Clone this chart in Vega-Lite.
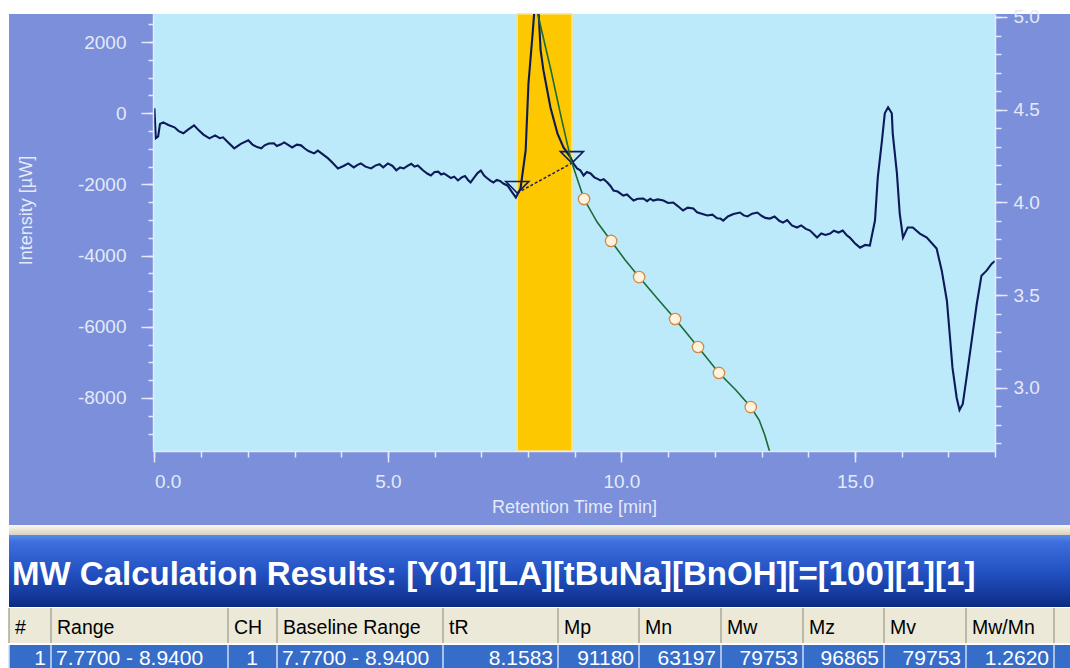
{
  "$schema": "https://vega.github.io/schema/vega-lite/v6.json",
  "background": "#ffffff",
  "padding": {"left": 8, "top": 7, "right": 0, "bottom": 0},
  "spacing": 0,
  "columns": 1,
  "config": {
    "view": {"stroke": null},
    "axis": {"labelFont": "Liberation Sans", "titleFont": "Liberation Sans", "grid": false,
      "tickColor": "#e4eaf9", "tickWidth": 1.5, "domainColor": "#e4eaf9", "domainWidth": 1.5,
      "labelColor": "#e4eaf9", "titleColor": "#e4eaf9", "labelFontSize": 19, "titleFontSize": 18, "titleFontWeight": "normal",
      "labelOverlap": false}
  },
  "datasets": {
    "band": [{"start": 7.77, "end": 8.94}],
    "base": [{"t": 7.77, "i": -2240}, {"t": 8.94, "i": -1400}],
    "chrom": [
      {"t": 0.00, "i": 141}, {"t": 0.03, "i": -700}, {"t": 0.08, "i": -650}, {"t": 0.12, "i": -300},
      {"t": 0.19, "i": -254}, {"t": 0.30, "i": -330}, {"t": 0.43, "i": -394}, {"t": 0.52, "i": -500},
      {"t": 0.62, "i": -563}, {"t": 0.72, "i": -460}, {"t": 0.85, "i": -338}, {"t": 0.95, "i": -480},
      {"t": 1.05, "i": -600}, {"t": 1.18, "i": -704}, {"t": 1.30, "i": -620}, {"t": 1.40, "i": -700},
      {"t": 1.47, "i": -676}, {"t": 1.58, "i": -820}, {"t": 1.71, "i": -986}, {"t": 1.85, "i": -860},
      {"t": 2.01, "i": -761}, {"t": 2.10, "i": -880}, {"t": 2.20, "i": -950}, {"t": 2.29, "i": -986},
      {"t": 2.36, "i": -900}, {"t": 2.45, "i": -850}, {"t": 2.56, "i": -845}, {"t": 2.62, "i": -920},
      {"t": 2.70, "i": -880}, {"t": 2.78, "i": -817}, {"t": 2.88, "i": -900}, {"t": 2.95, "i": -960},
      {"t": 3.05, "i": -880}, {"t": 3.14, "i": -901}, {"t": 3.22, "i": -990}, {"t": 3.30, "i": -1060},
      {"t": 3.42, "i": -1127}, {"t": 3.50, "i": -1050}, {"t": 3.60, "i": -1150}, {"t": 3.72, "i": -1268},
      {"t": 3.82, "i": -1400}, {"t": 3.93, "i": -1549}, {"t": 4.05, "i": -1480}, {"t": 4.15, "i": -1409},
      {"t": 4.27, "i": -1521}, {"t": 4.35, "i": -1450}, {"t": 4.42, "i": -1409}, {"t": 4.52, "i": -1500},
      {"t": 4.64, "i": -1549}, {"t": 4.73, "i": -1470}, {"t": 4.82, "i": -1430}, {"t": 4.90, "i": -1520},
      {"t": 5.00, "i": -1409}, {"t": 5.10, "i": -1480}, {"t": 5.18, "i": -1600}, {"t": 5.26, "i": -1520},
      {"t": 5.34, "i": -1549}, {"t": 5.42, "i": -1480}, {"t": 5.50, "i": -1420}, {"t": 5.57, "i": -1500},
      {"t": 5.64, "i": -1465}, {"t": 5.75, "i": -1600}, {"t": 5.85, "i": -1700}, {"t": 5.92, "i": -1747},
      {"t": 6.00, "i": -1650}, {"t": 6.08, "i": -1640}, {"t": 6.14, "i": -1720}, {"t": 6.20, "i": -1690},
      {"t": 6.28, "i": -1760}, {"t": 6.35, "i": -1820}, {"t": 6.42, "i": -1780}, {"t": 6.50, "i": -1887},
      {"t": 6.58, "i": -1800}, {"t": 6.65, "i": -1760}, {"t": 6.72, "i": -1880}, {"t": 6.77, "i": -1944},
      {"t": 6.85, "i": -1800}, {"t": 6.92, "i": -1680}, {"t": 6.99, "i": -1606}, {"t": 7.06, "i": -1750},
      {"t": 7.12, "i": -1820}, {"t": 7.20, "i": -1900}, {"t": 7.26, "i": -1944}, {"t": 7.33, "i": -1870},
      {"t": 7.40, "i": -1900}, {"t": 7.48, "i": -1980}, {"t": 7.56, "i": -2028}, {"t": 7.65, "i": -2200},
      {"t": 7.74, "i": -2366}, {"t": 7.84, "i": -2113}, {"t": 7.95, "i": -1042}, {"t": 8.01, "i": 845},
      {"t": 8.10, "i": 2254}, {"t": 8.16, "i": 3300}, {"t": 8.23, "i": 2761}, {"t": 8.27, "i": 1775},
      {"t": 8.33, "i": 1211}, {"t": 8.48, "i": 169}, {"t": 8.63, "i": -563}, {"t": 8.76, "i": -958},
      {"t": 8.91, "i": -1239}, {"t": 8.97, "i": -1409}, {"t": 9.05, "i": -1550}, {"t": 9.12, "i": -1600},
      {"t": 9.19, "i": -1747}, {"t": 9.26, "i": -1650}, {"t": 9.34, "i": -1690}, {"t": 9.42, "i": -1800},
      {"t": 9.50, "i": -1850}, {"t": 9.55, "i": -1887}, {"t": 9.62, "i": -1850}, {"t": 9.70, "i": -1944},
      {"t": 9.77, "i": -2050}, {"t": 9.83, "i": -2169}, {"t": 9.92, "i": -2200}, {"t": 10.04, "i": -2310},
      {"t": 10.12, "i": -2280}, {"t": 10.20, "i": -2380}, {"t": 10.26, "i": -2451}, {"t": 10.35, "i": -2400},
      {"t": 10.47, "i": -2394}, {"t": 10.55, "i": -2470}, {"t": 10.62, "i": -2400}, {"t": 10.68, "i": -2451},
      {"t": 10.78, "i": -2420}, {"t": 10.90, "i": -2451}, {"t": 11.00, "i": -2520}, {"t": 11.11, "i": -2507},
      {"t": 11.20, "i": -2600}, {"t": 11.32, "i": -2732}, {"t": 11.42, "i": -2650}, {"t": 11.54, "i": -2676},
      {"t": 11.62, "i": -2780}, {"t": 11.72, "i": -2820}, {"t": 11.84, "i": -2873}, {"t": 11.95, "i": -2850},
      {"t": 12.05, "i": -2950}, {"t": 12.12, "i": -2958}, {"t": 12.18, "i": -3014}, {"t": 12.28, "i": -2900},
      {"t": 12.40, "i": -2830}, {"t": 12.54, "i": -2789}, {"t": 12.62, "i": -2870}, {"t": 12.70, "i": -2900},
      {"t": 12.80, "i": -2820}, {"t": 12.91, "i": -2789}, {"t": 13.00, "i": -2880}, {"t": 13.08, "i": -2940},
      {"t": 13.18, "i": -2958}, {"t": 13.28, "i": -2900}, {"t": 13.38, "i": -3020}, {"t": 13.46, "i": -3071},
      {"t": 13.55, "i": -3000}, {"t": 13.65, "i": -3150}, {"t": 13.76, "i": -3211}, {"t": 13.85, "i": -3150},
      {"t": 13.95, "i": -3250}, {"t": 14.04, "i": -3296}, {"t": 14.12, "i": -3400}, {"t": 14.19, "i": -3493},
      {"t": 14.28, "i": -3380}, {"t": 14.37, "i": -3420}, {"t": 14.47, "i": -3380}, {"t": 14.55, "i": -3300},
      {"t": 14.65, "i": -3350}, {"t": 14.74, "i": -3296}, {"t": 14.82, "i": -3420}, {"t": 14.89, "i": -3493},
      {"t": 15.00, "i": -3650}, {"t": 15.11, "i": -3775}, {"t": 15.22, "i": -3700}, {"t": 15.32, "i": -3718},
      {"t": 15.43, "i": -3014}, {"t": 15.49, "i": -1803}, {"t": 15.58, "i": -761}, {"t": 15.64, "i": 0},
      {"t": 15.71, "i": 169}, {"t": 15.79, "i": 0}, {"t": 15.81, "i": -563}, {"t": 15.90, "i": -1690},
      {"t": 15.96, "i": -2817}, {"t": 16.03, "i": -3493}, {"t": 16.13, "i": -3211}, {"t": 16.24, "i": -3211},
      {"t": 16.39, "i": -3380}, {"t": 16.54, "i": -3493}, {"t": 16.75, "i": -3803}, {"t": 16.86, "i": -4423},
      {"t": 16.97, "i": -5268}, {"t": 17.03, "i": -6197}, {"t": 17.09, "i": -7155}, {"t": 17.18, "i": -8000},
      {"t": 17.24, "i": -8338}, {"t": 17.31, "i": -8169}, {"t": 17.39, "i": -7437}, {"t": 17.50, "i": -6395},
      {"t": 17.61, "i": -5352}, {"t": 17.71, "i": -4564}, {"t": 17.82, "i": -4423}, {"t": 17.93, "i": -4226},
      {"t": 18.00, "i": -4150}
    ],
    "calib": [
      {"t": 8.17, "v": 5.065}, {"t": 8.21, "v": 5.016}, {"t": 8.34, "v": 4.876}, {"t": 8.49, "v": 4.714},
      {"t": 8.71, "v": 4.46}, {"t": 8.92, "v": 4.229}, {"t": 9.07, "v": 4.115}, {"t": 9.20, "v": 4.018},
      {"t": 9.48, "v": 3.894}, {"t": 9.78, "v": 3.792}, {"t": 10.08, "v": 3.689}, {"t": 10.38, "v": 3.597},
      {"t": 10.76, "v": 3.484}, {"t": 11.15, "v": 3.371}, {"t": 11.64, "v": 3.22}, {"t": 12.09, "v": 3.08},
      {"t": 12.45, "v": 2.988}, {"t": 12.77, "v": 2.896}, {"t": 12.95, "v": 2.826}, {"t": 13.07, "v": 2.745},
      {"t": 13.17, "v": 2.659}, {"t": 13.20, "v": 2.61}
    ],
    "calpts": [
      {"t": 9.20, "v": 4.018}, {"t": 9.78, "v": 3.792}, {"t": 10.38, "v": 3.597}, {"t": 11.15, "v": 3.371},
      {"t": 11.64, "v": 3.22}, {"t": 12.09, "v": 3.08}, {"t": 12.77, "v": 2.896}
    ],
    "cells": [
      {"col": 0, "next": 1, "head": "#", "val": "1"},
      {"col": 1, "next": 2, "head": "Range", "val": "7.7700 - 8.9400"},
      {"col": 2, "next": 3, "head": "CH", "val": "1"},
      {"col": 3, "next": 4, "head": "Baseline Range", "val": "7.7700 - 8.9400"},
      {"col": 4, "next": 5, "head": "tR", "val": "8.1583"},
      {"col": 5, "next": 6, "head": "Mp", "val": "91180"},
      {"col": 6, "next": 7, "head": "Mn", "val": "63197"},
      {"col": 7, "next": 8, "head": "Mw", "val": "79753"},
      {"col": 8, "next": 9, "head": "Mz", "val": "96865"},
      {"col": 9, "next": 10, "head": "Mv", "val": "79753"},
      {"col": 10, "next": 11, "head": "Mw/Mn", "val": "1.2620"}
    ],
    "seps": [{"k": 0}, {"k": 1}, {"k": 2}, {"k": 3}, {"k": 4}, {"k": 5}, {"k": 6}, {"k": 7}, {"k": 8}, {"k": 9}, {"k": 10}, {"k": 11}],
    "whole": [{"from": 0, "to": 12}]
  },
  "concat": [
    {
      "width": 842,
      "height": 437,
      "layer": [
        {
          "layer": [
            {
              "data": {"values": [{}]},
              "mark": {"type": "rect", "color": "#7b8fda", "clip": false},
              "encoding": {
                "x": {"datum": -3.113, "type": "quantitative", "scale": {"domain": [-0.03, 18], "nice": false, "zero": false}, "axis": null},
                "x2": {"datum": 19.627},
                "y": {"datum": 2790, "type": "quantitative", "scale": {"domain": [-9490, 2790], "nice": false, "zero": false}, "axis": null},
                "y2": {"datum": -11569}
              }
            },
            {
              "data": {"values": [{}]},
              "mark": {"type": "rect", "color": "#bdeafb"},
              "encoding": {}
            },
            {
              "data": {"name": "band"},
              "mark": {"type": "rect", "color": "#fdc800", "stroke": "#ffe27a", "strokeWidth": 1.5},
              "encoding": {
                "x": {"field": "start", "type": "quantitative", "scale": {"domain": [-0.03, 18], "nice": false, "zero": false}, "axis": null},
                "x2": {"field": "end"}
              }
            },
            {
              "data": {"name": "chrom"},
              "mark": {"type": "line", "color": "#0c1a58", "strokeWidth": 2.1, "clip": true},
              "encoding": {
                "x": {
                  "field": "t", "type": "quantitative",
                  "scale": {"domain": [-0.03, 18], "nice": false, "zero": false},
                  "axis": {
                    "orient": "bottom", "zindex": 1, "values": [0, 5, 10, 15], "format": ".1f",
                    "title": "Retention Time [min]",
                    "labelAlign": {"condition": {"test": "datum.value === 0", "value": "left"}, "value": "center"},
                    "tickSize": 11, "labelPadding": 10, "labelFlush": false, "titlePadding": 7
                  }
                },
                "y": {
                  "field": "i", "type": "quantitative",
                  "scale": {"domain": [-9490, 2790], "nice": false, "zero": false},
                  "axis": {
                    "orient": "left", "zindex": 1, "values": [-8000, -6000, -4000, -2000, 0, 2000],
                    "title": "Intensity [µW]",
                    "labelExpr": "datum.value < 0 ? '-' + format(-datum.value, 'd') : format(datum.value, 'd')",
                    "tickSize": 12, "labelPadding": 15, "labelFlush": false, "titlePadding": 42, "titleY": 196
                  }
                }
              }
            },
            {
              "data": {"name": "base"},
              "mark": {"type": "line", "color": "#1a1f40", "strokeWidth": 1.5, "strokeDash": [3, 2]},
              "encoding": {
                "x": {"field": "t", "type": "quantitative", "scale": {"domain": [-0.03, 18], "nice": false, "zero": false},
                  "axis": {"orient": "bottom", "zindex": 1, "values": [0, 1, 2, 3, 4, 5, 6, 7, 8, 9, 10, 11, 12, 13, 14, 15, 16, 17, 18],
                    "labels": false, "title": null, "domain": false, "tickSize": 6}},
                "y": {"field": "i", "type": "quantitative", "scale": {"domain": [-9490, 2790], "nice": false, "zero": false},
                  "axis": {"orient": "left", "zindex": 1, "values": [-9500, -9000, -8500, -8000, -7500, -7000, -6500, -6000, -5500, -5000, -4500, -4000, -3500, -3000, -2500, -2000, -1500, -1000, -500, 0, 500, 1000, 1500, 2000, 2500],
                    "labels": false, "title": null, "domain": false, "tickSize": 5}}
              }
            },
            {
              "data": {"name": "base"},
              "mark": {"type": "point", "shape": "M-1,-1L1,-1L0,0Z", "size": 529, "filled": false, "color": "#0c1b5c", "strokeWidth": 1.6, "opacity": 1},
              "encoding": {
                "x": {"field": "t", "type": "quantitative", "scale": {"domain": [-0.03, 18], "nice": false, "zero": false}, "axis": null},
                "y": {"field": "i", "type": "quantitative", "scale": {"domain": [-9490, 2790], "nice": false, "zero": false}, "axis": null}
              }
            }
          ],
          "resolve": {"axis": {"x": "independent", "y": "independent"}}
        },
        {
          "layer": [
            {
              "data": {"name": "calib"},
              "mark": {"type": "line", "color": "#1c6a36", "strokeWidth": 1.6, "clip": true},
              "encoding": {
                "x": {"field": "t", "type": "quantitative", "scale": {"domain": [-0.03, 18], "nice": false, "zero": false}, "axis": null},
                "y": {
                  "field": "v", "type": "quantitative",
                  "scale": {"domain": [2.659, 5.016], "nice": false, "zero": false},
                  "axis": {
                    "orient": "right", "zindex": 1, "title": null, "values": [3.0, 3.5, 4.0, 4.5, 5.0], "format": ".1f",
                    "tickSize": 12, "labelPadding": 6, "labelFlush": false
                  }
                }
              }
            },
            {
              "data": {"name": "calpts"},
              "mark": {"type": "point", "filled": true, "fill": "#fff3dd", "stroke": "#d08c46", "strokeWidth": 1.3, "size": 130, "opacity": 1},
              "encoding": {
                "x": {"field": "t", "type": "quantitative", "scale": {"domain": [-0.03, 18], "nice": false, "zero": false}, "axis": null},
                "y": {"field": "v", "type": "quantitative", "scale": {"domain": [2.659, 5.016], "nice": false, "zero": false},
                  "axis": {"orient": "right", "zindex": 1, "title": null, "labels": false, "domain": false, "tickSize": 6,
                    "values": [2.7, 2.8, 2.9, 3.0, 3.1, 3.2, 3.3, 3.4, 3.5, 3.6, 3.7, 3.8, 3.9, 4.0, 4.1, 4.2, 4.3, 4.4, 4.5, 4.6, 4.7, 4.8, 4.9, 5.0]}}
              }
            }
          ],
          "resolve": {"axis": {"y": "independent"}}
        }
      ],
      "resolve": {"scale": {"y": "independent"}, "axis": {"x": "independent", "y": "independent"}}
    },
    {
      "width": 918,
      "height": 10,
      "data": {"name": "whole"},
      "mark": {
        "type": "rect", "clip": false,
        "color": {"gradient": "linear", "x1": 0, "y1": 0, "x2": 0, "y2": 1,
          "stops": [{"offset": 0, "color": "#fbfaf3"}, {"offset": 0.4, "color": "#ece9d8"}, {"offset": 1, "color": "#d6d2c2"}]}
      },
      "encoding": {
        "x": {"field": "from", "type": "quantitative", "scale": {"domain": [0, 12], "range": [-144, 918], "nice": false, "zero": false}, "axis": null},
        "x2": {"field": "to"}
      }
    },
    {
      "width": 918,
      "height": 72,
      "layer": [
        {
          "data": {"name": "whole"},
          "mark": {
            "type": "rect", "clip": false,
            "color": {"gradient": "linear", "x1": 0, "y1": 0, "x2": 0, "y2": 1,
              "stops": [{"offset": 0, "color": "#5a8ae8"}, {"offset": 0.1, "color": "#3d6fdc"}, {"offset": 0.5, "color": "#2452c4"}, {"offset": 0.85, "color": "#133899"}, {"offset": 1, "color": "#0b2a80"}]}
          },
          "encoding": {
            "x": {"field": "from", "type": "quantitative", "scale": {"domain": [0, 12], "range": [-144, 918], "nice": false, "zero": false}, "axis": null},
            "x2": {"field": "to"}
          }
        },
        {
          "data": {"values": [{"title": "MW Calculation Results: [Y01][LA][tBuNa][BnOH][=[100][1][1]", "from": 0}]},
          "mark": {"type": "text", "align": "left", "baseline": "middle", "font": "Liberation Sans", "fontSize": 33, "fontWeight": "bold", "color": "#ffffff", "dx": 3, "dy": 4},
          "encoding": {
            "text": {"field": "title"},
            "x": {"field": "from", "type": "quantitative", "scale": {"domain": [0, 12], "range": [-144, 918], "nice": false, "zero": false}, "axis": null}
          }
        }
      ]
    },
    {
      "width": 918,
      "height": 35,
      "layer": [
        {
          "data": {"name": "whole"},
          "mark": {"type": "rect", "color": "#ece9d8", "clip": false},
          "encoding": {
            "x": {"field": "from", "type": "quantitative", "scale": {"domain": [0, 1, 2, 3, 4, 5, 6, 7, 8, 9, 10, 11, 12], "range": [-144, -102, 75, 124, 290, 405, 486, 568, 650, 731, 813, 901, 918], "nice": false, "zero": false}, "axis": null},
            "x2": {"field": "to"}
          }
        },
        {
          "data": {"name": "seps"},
          "mark": {"type": "rule", "color": "#aca899", "strokeWidth": 1.5},
          "encoding": {
            "x": {"field": "k", "type": "quantitative", "scale": {"domain": [0, 1, 2, 3, 4, 5, 6, 7, 8, 9, 10, 11, 12], "range": [-144, -102, 75, 124, 290, 405, 486, 568, 650, 731, 813, 901, 918], "nice": false, "zero": false}, "axis": null}
          }
        },
        {
          "data": {"name": "cells"},
          "mark": {"type": "text", "align": "left", "baseline": "middle", "font": "Liberation Sans", "fontSize": 19.5, "color": "#000000", "dx": 6, "dy": 2},
          "encoding": {
            "x": {"field": "col", "type": "quantitative", "scale": {"domain": [0, 1, 2, 3, 4, 5, 6, 7, 8, 9, 10, 11, 12], "range": [-144, -102, 75, 124, 290, 405, 486, 568, 650, 731, 813, 901, 918], "nice": false, "zero": false}, "axis": null},
            "text": {"field": "head"}
          }
        }
      ]
    },
    {
      "width": 918,
      "height": 26,
      "layer": [
        {
          "data": {"name": "whole"},
          "mark": {"type": "rect", "color": "#356dc9", "clip": false},
          "encoding": {
            "x": {"field": "from", "type": "quantitative", "scale": {"domain": [0, 1, 2, 3, 4, 5, 6, 7, 8, 9, 10, 11, 12], "range": [-144, -102, 75, 124, 290, 405, 486, 568, 650, 731, 813, 901, 918], "nice": false, "zero": false}, "axis": null},
            "x2": {"field": "to"}
          }
        },
        {
          "data": {"name": "seps"},
          "mark": {"type": "rule", "color": "#d2ddf5", "strokeWidth": 1.5},
          "encoding": {
            "x": {"field": "k", "type": "quantitative", "scale": {"domain": [0, 1, 2, 3, 4, 5, 6, 7, 8, 9, 10, 11, 12], "range": [-144, -102, 75, 124, 290, 405, 486, 568, 650, 731, 813, 901, 918], "nice": false, "zero": false}, "axis": null}
          }
        },
        {
          "data": {"name": "cells"},
          "transform": [{"filter": {"field": "col", "oneOf": [1, 3]}}],
          "mark": {"type": "text", "align": "left", "baseline": "middle", "font": "Liberation Sans", "fontSize": 21, "color": "#ffffff", "dx": 5, "dy": 1},
          "encoding": {
            "x": {"field": "col", "type": "quantitative", "scale": {"domain": [0, 1, 2, 3, 4, 5, 6, 7, 8, 9, 10, 11, 12], "range": [-144, -102, 75, 124, 290, 405, 486, 568, 650, 731, 813, 901, 918], "nice": false, "zero": false}, "axis": null},
            "text": {"field": "val"}
          }
        },
        {
          "data": {"name": "cells"},
          "transform": [{"filter": {"field": "col", "oneOf": [2]}}],
          "mark": {"type": "text", "align": "center", "baseline": "middle", "font": "Liberation Sans", "fontSize": 21, "color": "#ffffff", "dx": 24, "dy": 1},
          "encoding": {
            "x": {"field": "col", "type": "quantitative", "scale": {"domain": [0, 1, 2, 3, 4, 5, 6, 7, 8, 9, 10, 11, 12], "range": [-144, -102, 75, 124, 290, 405, 486, 568, 650, 731, 813, 901, 918], "nice": false, "zero": false}, "axis": null},
            "text": {"field": "val"}
          }
        },
        {
          "data": {"name": "cells"},
          "transform": [{"filter": {"field": "col", "oneOf": [0, 4, 5, 6, 7, 8, 9, 10]}}],
          "mark": {"type": "text", "align": "right", "baseline": "middle", "font": "Liberation Sans", "fontSize": 21, "color": "#ffffff", "dx": -5, "dy": 1},
          "encoding": {
            "x": {"field": "next", "type": "quantitative", "scale": {"domain": [0, 1, 2, 3, 4, 5, 6, 7, 8, 9, 10, 11, 12], "range": [-144, -102, 75, 124, 290, 405, 486, 568, 650, 731, 813, 901, 918], "nice": false, "zero": false}, "axis": null},
            "text": {"field": "val"}
          }
        }
      ]
    }
  ]
}
